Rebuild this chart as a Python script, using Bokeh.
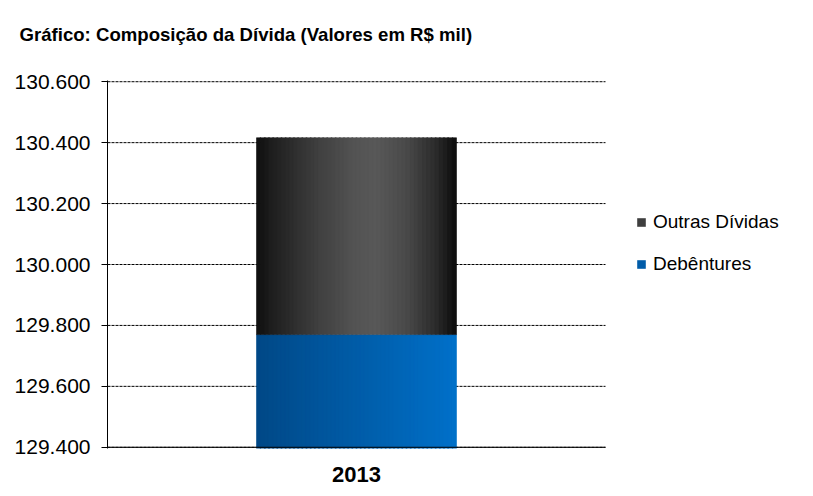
from bokeh.plotting import figure
from bokeh.models import Range1d, FixedTicker, Legend, LegendItem, ColumnDataSource
from bokeh.transform import dodge
from bokeh.embed import file_html
from bokeh.resources import INLINE
import numpy as np

# ---- data ----
title_text = "Gráfico: Composição da Dívida (Valores em R$ mil)"
years = ["2013"]
debentures = [129770]
outras_dividas = [646]
series_names = ["Debêntures", "Outras Dívidas"]
y_ticks = [129400, 129600, 129800, 130000, 130200, 130400, 130600]
y_tick_labels = ["129.400", "129.600", "129.800", "130.000", "130.200", "130.400", "130.600"]

# ---- styling helpers ----
FONT = "Liberation Sans"
N = 48
BW = 0.4016
Y_PAD = 4
X_END = len(years) * 706 / 498

grey_stops_t = [0.0, 0.08, 0.3, 0.5, 0.6, 0.75, 0.9, 1.0]
grey_stops_v = [14, 30, 62, 84, 88, 74, 44, 12]
blue_stops_rgb = [(0, 72, 134), (0, 112, 201)]


def grey_color(t):
    v = int(round(np.interp(t, grey_stops_t, grey_stops_v)))
    return "#%02x%02x%02x" % (v, v, v)


def blue_color(t):
    c0, c1 = blue_stops_rgb
    r, g, b = [int(round(a + (b_ - a) * t)) for a, b_ in zip(c0, c1)]
    return "#%02x%02x%02x" % (r, g, b)


x_pos = [i + 0.5 for i in range(len(years))]
src = ColumnDataSource(dict(
    x=x_pos,
    deb_bottom=[0 for _ in debentures],
    deb_top=debentures,
    out_bottom=debentures,
    out_top=[d + o for d, o in zip(debentures, outras_dividas)],
))

p = figure(
    width=813, height=496,
    x_range=Range1d(0, X_END),
    y_range=Range1d(y_ticks[0] - Y_PAD, y_ticks[-1] + Y_PAD),
    output_backend="svg", toolbar_location=None,
    min_border_left=107, min_border_right=0,
    min_border_top=80, min_border_bottom=48,
)
p.outline_line_color = None
p.background_fill_color = "white"
p.border_fill_color = "white"

# dashed horizontal grid lines spanning the category area only
p.segment(x0=[0] * len(y_ticks), x1=[len(years)] * len(y_ticks), y0=y_ticks, y1=y_ticks,
          line_color="black", line_width=1, line_dash="3 1")

deb_mid = None
out_mid = None
for i in range(N):
    t = (i + 0.5) / N
    off = -BW / 2 + t * BW
    w = BW / N
    w_draw = w if (i == 0 or i == N - 1) else w * 1.3
    cb = blue_color(t)
    cg = grey_color(t)
    r1 = p.vbar(x=dodge("x", off), top="deb_top", bottom="deb_bottom",
                width=w_draw, source=src, fill_color=cb, line_color=cb, line_width=0.6)
    r2 = p.vbar(x=dodge("x", off), top="out_top", bottom="out_bottom",
                width=w_draw, source=src, fill_color=cg, line_color=cg, line_width=0.6)
    if i == N // 2:
        deb_mid = r1
    if i == int(N * 0.3):
        out_mid = r2

# category axis line (solid), spanning the category area
p.segment(x0=[0], x1=[len(years)], y0=[y_ticks[0]], y1=[y_ticks[0]],
          line_color="black", line_width=1)

# title
p.title.text = title_text
p.title.text_font = FONT
p.title.text_font_size = "18.6px"
p.title.text_font_style = "bold"
p.title.text_color = "black"
p.title.align = "left"
p.title.vertical_align = "bottom"
p.title.offset = -88
p.title.standoff = 0
p.title.padding = dict(left=0, right=0, top=0, bottom=36)

# y axis
p.yaxis.ticker = FixedTicker(ticks=y_ticks)
p.yaxis.major_label_overrides = {v: s for v, s in zip(y_ticks, y_tick_labels)}
p.yaxis.major_label_text_font = FONT
p.yaxis.major_label_text_font_size = "21px"
p.yaxis.major_label_text_color = "black"
p.yaxis.axis_line_color = "black"
p.yaxis.major_tick_line_color = "black"
p.yaxis.major_tick_out = 6
p.yaxis.major_tick_in = 0
p.yaxis.minor_tick_line_color = None
p.yaxis.major_label_standoff = 11

# x axis
p.xaxis.ticker = FixedTicker(ticks=x_pos)
p.xaxis.major_label_overrides = {v: s for v, s in zip(x_pos, years)}
p.xaxis.major_label_text_font = FONT
p.xaxis.major_label_text_font_size = "22px"
p.xaxis.major_label_text_font_style = "bold"
p.xaxis.major_label_text_color = "black"
p.xaxis.axis_line_color = None
p.xaxis.major_tick_line_color = None
p.xaxis.minor_tick_line_color = None
p.xaxis.major_tick_out = 0
p.xaxis.major_label_standoff = 18

# grid
p.xgrid.grid_line_color = None
p.ygrid.grid_line_color = None

legend = Legend(
    items=[LegendItem(label=series_names[1], renderers=[out_mid]),
           LegendItem(label=series_names[0], renderers=[deb_mid])],
    location=(529, 173),
    glyph_width=10, glyph_height=10, label_height=10,
    spacing=20, padding=0, margin=0, label_standoff=7,
    border_line_color=None, background_fill_alpha=0,
    label_text_font=FONT, label_text_font_size="19px", label_text_color="black",
)
p.add_layout(legend)

open("out.html", "w").write(file_html(p, INLINE))
